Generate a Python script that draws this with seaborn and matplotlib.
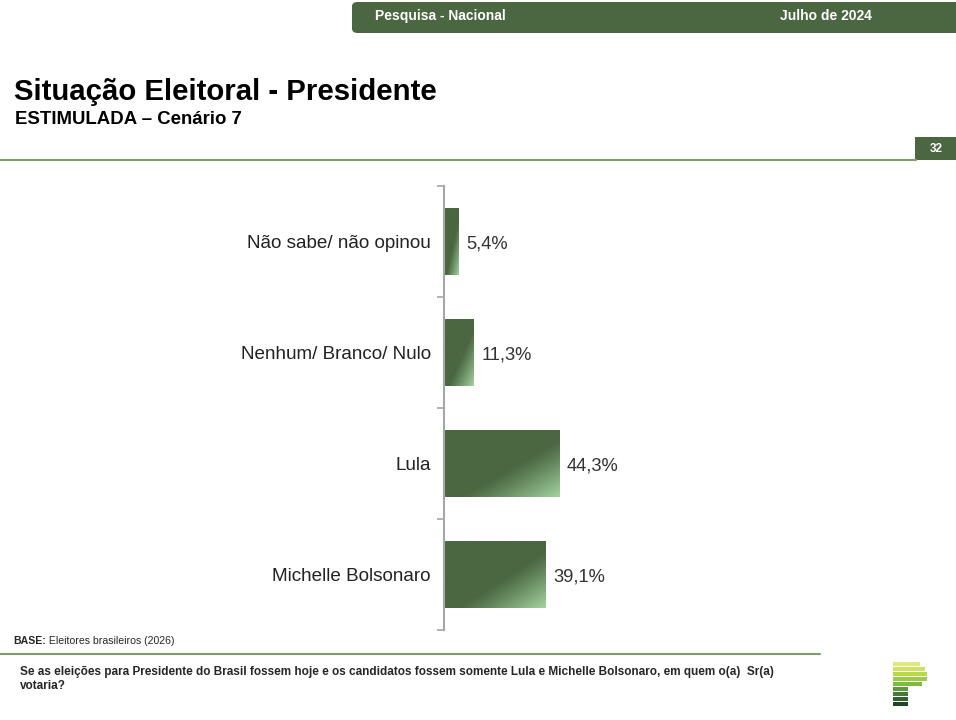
import numpy as np
import pandas as pd
import matplotlib
matplotlib.use("Agg")
import matplotlib.pyplot as plt
from matplotlib.patches import FancyBboxPatch, Rectangle
from matplotlib.colors import to_rgb
import seaborn as sns

# ---- data ----
categories = ["Não sabe/ não opinou", "Nenhum/ Branco/ Nulo", "Lula", "Michelle Bolsonaro"]
values = [5.4, 11.3, 44.3, 39.1]
value_labels = ["5,4%", "11,3%", "44,3%", "39,1%"]

header_left = "Pesquisa - Nacional"
header_right = "Julho de 2024"
title = "Situação Eleitoral - Presidente"
subtitle = "ESTIMULADA – Cenário 7"
page_num = "32"
base_bold = "BASE:"
base_text = " Eleitores brasileiros (2026)"
question = ("Se as eleições para Presidente do Brasil fossem hoje e os candidatos fossem somente Lula e Michelle Bolsonaro, em quem o(a)  Sr(a)\n"
            "votaria?")

DARK = "#4a6741"
LIGHT = "#a3d3a0"
FONT = ["Liberation Sans", "DejaVu Sans"]

sns.set_theme(style="white")
plt.rcParams["font.family"] = FONT

W, H = 956, 720
fig = plt.figure(figsize=(W / 100, H / 100), dpi=100)

def fx(px):
    return px / W

def fy(py):
    return 1 - py / H

# ---- header bar ----
hdr = FancyBboxPatch((fx(352), fy(33)), fx(640), fy(2) - fy(33),
                     boxstyle="round,pad=0,rounding_size=0.006",
                     transform=fig.transFigure, facecolor=DARK, edgecolor="none")
fig.patches.append(hdr)
fig.text(fx(375), fy(16), header_left, color="white", fontsize=10, fontweight="bold", va="center", ha="left")
fig.text(fx(780), fy(16), header_right, color="white", fontsize=10, fontweight="bold", va="center", ha="left")

# ---- titles ----
fig.text(fx(14), fy(92), title, fontsize=21.2, fontweight="bold", color="black", va="center", ha="left")
fig.text(fx(15), fy(120), subtitle, fontsize=13.4, fontweight="bold", color="black", va="center", ha="left")

# top separator and page number
fig.add_artist(plt.Line2D([0, fx(916)], [fy(160), fy(160)], transform=fig.transFigure, color="#7e9b6e", lw=1.5))
fig.patches.append(Rectangle((fx(915), fy(160)), fx(41), fy(137) - fy(160), transform=fig.transFigure,
                             facecolor=DARK, edgecolor="none"))
fig.text(fx(936), fy(148.5), page_num, color="white", fontsize=8.5, fontweight="bold", va="center", ha="center")

# ---- chart ----
ax_left, ax_right = 444, 704
ax_top, ax_bot = 186, 630
ax = fig.add_axes([fx(ax_left), fy(ax_bot), fx(ax_right - ax_left), fy(ax_top) - fy(ax_bot)])

df = pd.DataFrame({"cat": categories, "val": values})
sns.barplot(data=df, y="cat", x="val", orient="h", color=DARK, width=0.6, ax=ax,
            edgecolor="none", order=categories)

# gradient overlay on each bar (dark, lightening toward bottom-right corner)
dark_rgb = np.array(to_rgb(DARK))
light_rgb = np.array(to_rgb(LIGHT))
nu, nv = 200, 100
u = np.linspace(0, 1, nu)[None, :]
v = np.linspace(0, 1, nv)[:, None]   # 0 = top row, 1 = bottom row
t = np.clip((u + v - 1.15) / 0.85, 0, 1) ** 1.1
img = dark_rgb[None, None, :] * (1 - t[..., None]) + light_rgb[None, None, :] * t[..., None]

for patch in ax.patches:
    x0, y0 = patch.get_x(), patch.get_y()
    w, h = patch.get_width(), patch.get_height()
    # inverted y axis: y0 is the top edge visually, y0+h the bottom
    im = ax.imshow(img[::-1], extent=[x0, x0 + w, y0 + h, y0], origin="lower", aspect="auto",
                   interpolation="bilinear", zorder=patch.get_zorder() + 0.1)
    im.set_clip_path(patch)

for i, (val, lab) in enumerate(zip(values, value_labels)):
    ax.text(val + 3.0, i + 0.02, lab, va="center", ha="left", fontsize=13.2, color="#333333")

ax.set_xlim(0, 100)
ax.set_ylim(len(categories) - 0.5, -0.5)
ax.set_xlabel("")
ax.set_ylabel("")
ax.set_xticks([])
ax.set_yticks(range(len(categories)))
ax.set_yticklabels(categories, fontsize=13.6, color="#222222")
ax.set_yticks(np.arange(-0.5, len(categories), 1.0), minor=True)
ax.tick_params(axis="y", which="major", length=0, pad=9.5)
ax.tick_params(axis="y", which="minor", length=5, width=1.2, color="#a6a6a6", left=True)
for s in ["top", "right", "bottom"]:
    ax.spines[s].set_visible(False)
ax.spines["left"].set_color("#a6a6a6")
ax.spines["left"].set_linewidth(1.5)
ax.patch.set_alpha(0)

# ---- footer ----
t_base = fig.text(fx(13), fy(641), base_bold, fontsize=7.6, fontweight="bold", va="center", ha="left")
fig.text(0, 0, "")
ann = plt.annotate(base_text, xy=(1, 0.5), xycoords=t_base, va="center", ha="left", fontsize=7.6,
                   annotation_clip=False)
fig.add_artist(plt.Line2D([0, fx(820)], [fy(654), fy(654)], transform=fig.transFigure, color="#7e9b6e", lw=1.5))
fig.text(fx(20), fy(679), question, fontsize=8.5, fontweight="bold", va="center", ha="left", linespacing=1.3)

# ---- logo ----
logo_colors = ["#dfe87a", "#cfe160", "#b7d84a", "#9dcc44", "#7fbb3f", "#5f9a3a", "#467a34", "#30602b", "#1f4722"]
logo_right = [920, 925, 927, 927, 922, 908, 908, 908, 908]
for k, (c, xr) in enumerate(zip(logo_colors, logo_right)):
    ytop = 662 + k * 5
    fig.patches.append(Rectangle((fx(893), fy(ytop + 3.5)), fx(xr - 893), fy(ytop) - fy(ytop + 3.5),
                                 transform=fig.transFigure, facecolor=c, edgecolor="none"))

fig.savefig("out.png", dpi=100)
